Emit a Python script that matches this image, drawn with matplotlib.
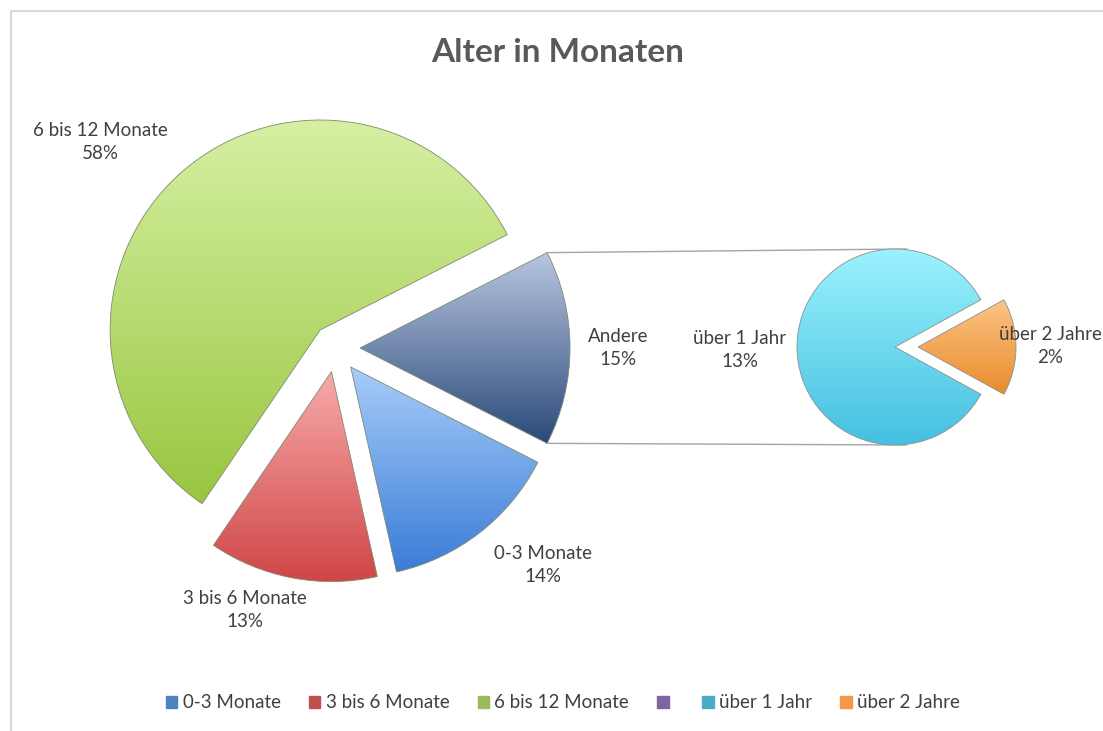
import numpy as np
import matplotlib
matplotlib.use("Agg")
import matplotlib.pyplot as plt
from matplotlib.colors import LinearSegmentedColormap
from matplotlib.patches import Patch, Rectangle

plt.rcParams["font.family"] = ["Lato", "DejaVu Sans"]

W, H = 1103, 731

# main pie (order drawn counter-clockwise from the green slice)
main_labels = ["6 bis 12 Monate", "3 bis 6 Monate", "0-3 Monate", "Andere"]
main_pct = [58, 13, 14, 15]
# secondary pie splitting "Andere" (labels show the rounded values)
sub_labels = ["über 1 Jahr", "über 2 Jahre"]
sub_pct = [12.6, 2.4]

main_grad = [("#d6f0a2", "#98c640"), ("#f8aaaa", "#cf4646"),
             ("#a8ccfa", "#3a7cd6"), ("#b8c6e0", "#2c4a7a")]
sub_grad = [("#9cf2fd", "#44c0e2"), ("#fdc486", "#e88c2c")]

legend_labels = ["0-3 Monate", "3 bis 6 Monate", "6 bis 12 Monate", "",
                 "über 1 Jahr", "über 2 Jahre"]
legend_colors = ["#4f81bd", "#c0504d", "#9bbb59", "#8064a2", "#4bacc6", "#f79646"]

fig = plt.figure(figsize=(W / 100, H / 100), dpi=100)
ax = fig.add_axes([0, 0, 1, 1])
ax.set_xlim(0, W)
ax.set_ylim(0, H)
ax.set_aspect("equal")
ax.axis("off")

# chart border
ax.add_patch(Rectangle((10.5, -20), W + 20, H - 10.5 + 20, fill=False,
                       ec="#d9d9d9", lw=1.5))


def shade(wedges, grads, edge):
    for w, (c1, c2) in zip(wedges, grads):
        ext = w.get_path().get_extents(w.get_patch_transform())
        cmap = LinearSegmentedColormap.from_list("g", [c2, c1])
        grad = np.linspace(0, 1, 256).reshape(-1, 1)
        im = ax.imshow(grad, cmap=cmap, origin="lower", aspect="auto",
                       extent=[ext.x0, ext.x1, ext.y0, ext.y1], zorder=2)
        im.set_clip_path(w)
        w.set_facecolor("none")
        w.set_edgecolor(edge)
        w.set_linewidth(0.6)
        w.set_zorder(3)


r_main, c_main = 210, (336, 383)
r_sub, c_sub = 98, (906.5, 384)

# pie explode is in data units here (radius is not 1)
wm, _ = ax.pie(main_pct, radius=r_main, center=c_main, startangle=27,
               explode=[24] * 4, frame=True)
shade(wm, main_grad, "#7f8a70")

ws, _ = ax.pie(sub_pct, radius=r_sub, center=c_sub,
               startangle=180 * sub_pct[1] / sum(sub_pct),
               explode=[11.5] * 2, frame=True)
shade(ws, sub_grad, "#8a9090")

ax.set_xlim(0, W)
ax.set_ylim(0, H)
ax.axis("off")

# connector lines from "Andere" to the secondary pie
a = wm[3]
t1, t2 = np.radians(a.theta1), np.radians(a.theta2)
cx, cy = a.center
top = (cx + r_main * np.cos(t2), cy + r_main * np.sin(t2))
bot = (cx + r_main * np.cos(t1), cy + r_main * np.sin(t1))
ax.plot([top[0], c_sub[0]], [top[1], c_sub[1] + r_sub], color="#a6a6a6", lw=1, zorder=1)
ax.plot([bot[0], c_sub[0]], [bot[1], c_sub[1] - r_sub], color="#a6a6a6", lw=1, zorder=1)

# data labels
lbl_pos = [(100, 589), (245, 121), (543, 166), (618, 383)]
for (x, y), name, p in zip(lbl_pos, main_labels, main_pct):
    ax.text(x, y, f"{name}\n{p:.0f}%", ha="center", va="center", fontsize=13.5,
            color="#404040", linespacing=1.4, zorder=5)
sub_pos = [(740, 381), (1050, 385)]
for (x, y), name, p in zip(sub_pos, sub_labels, sub_pct):
    ax.text(x, y, f"{name}\n{p:.0f}%", ha="center", va="center", fontsize=13.5,
            color="#404040", linespacing=1.4, zorder=5)

ax.text(558, 679, "Alter in Monaten", ha="center", va="center", fontsize=24,
        fontweight="bold", color="#595959")

handles = [Patch(facecolor=c, edgecolor=c) for c in legend_colors]
fig.legend(handles, legend_labels, loc="center", ncol=6,
           bbox_to_anchor=(563 / W, 1 - 703 / H), frameon=False, fontsize=13.5,
           handlelength=0.6, handleheight=0.6, handletextpad=0.3,
           columnspacing=1.5, labelcolor="#404040")

fig.savefig("out.png", dpi=100)
